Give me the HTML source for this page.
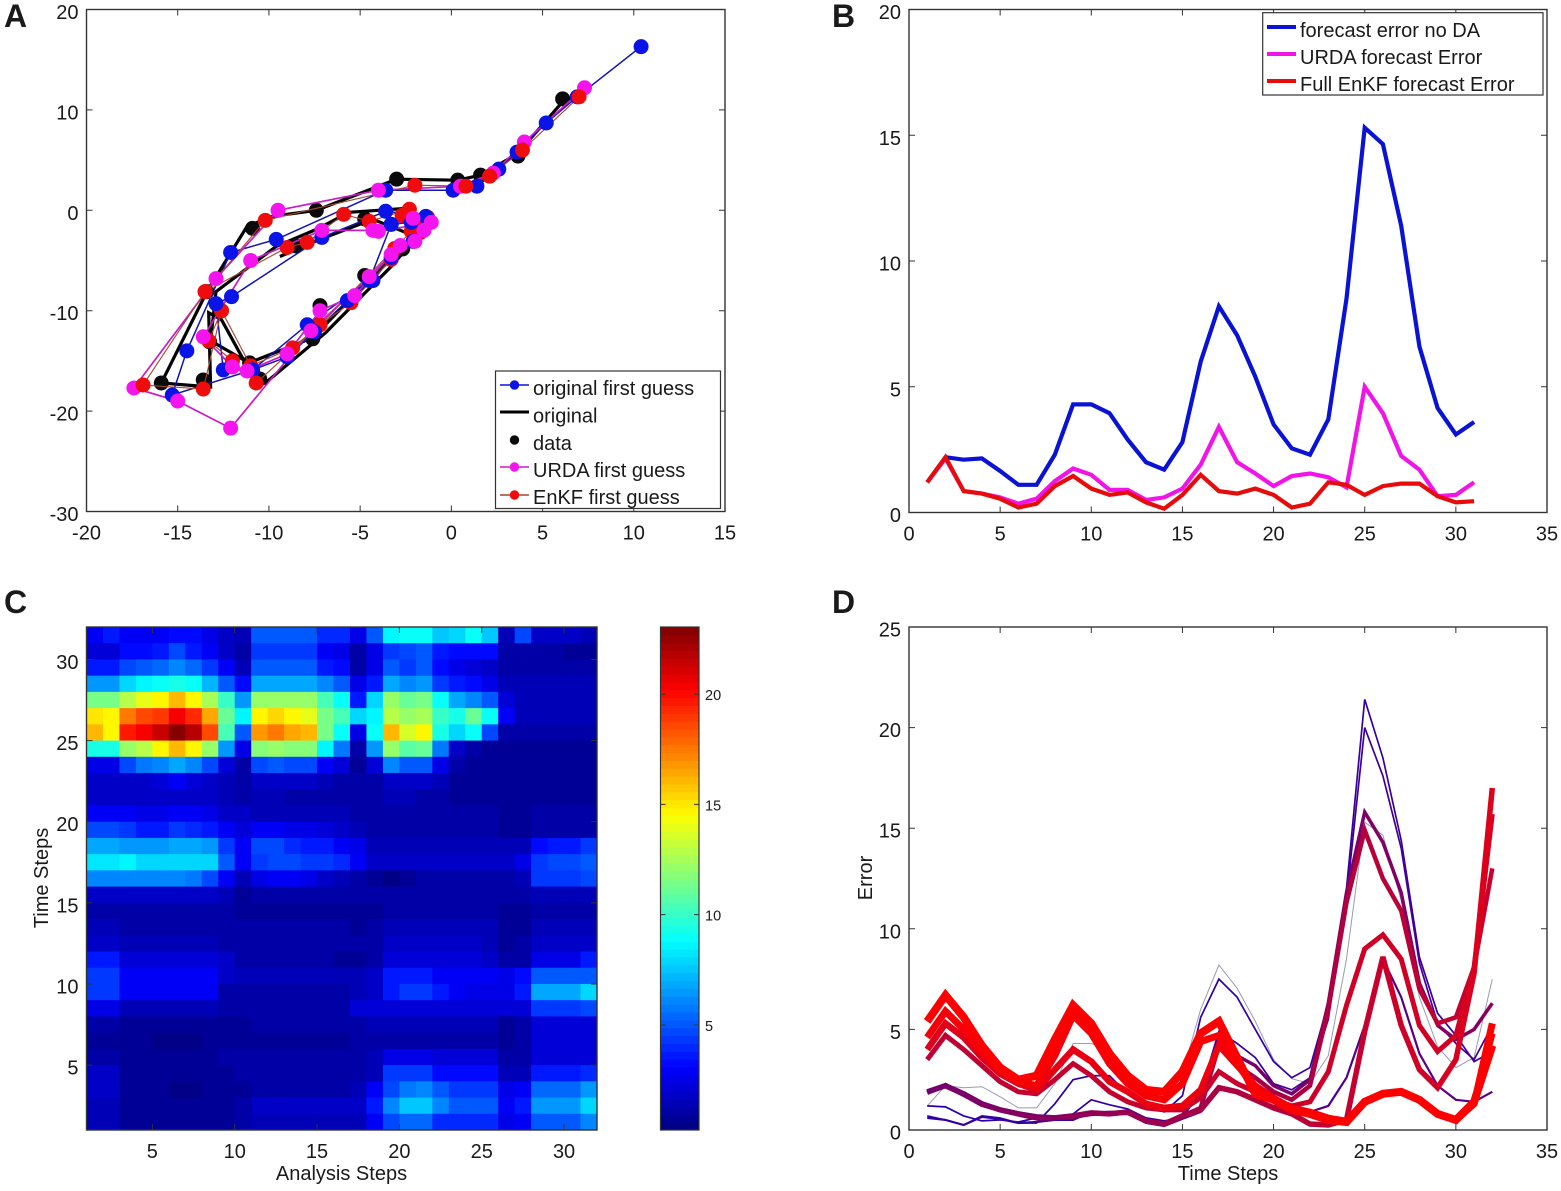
<!DOCTYPE html>
<html>
<head>
<meta charset="utf-8">
<title>Data assimilation figure</title>
<style>
html,body{margin:0;padding:0;background:#fff;}
svg{display:block;}
text{font-family:"Liberation Sans",sans-serif;fill:#1a1a1a;}
</style>
</head>
<body>
<svg id="fig" xmlns="http://www.w3.org/2000/svg" width="1561" height="1191" viewBox="0 0 1561 1191"></svg>
<script>
// ---------- Panel A data ----------
const guessX = [10.4,6.9,5.2,3.6,2.6,1.4,0.1,-3.6,-9.6,-12.1,-14.5,-15.3,-10.9,-9,-7.5,-5.7,-4.3,-3.3,-2.1,-1.4,-3.6,-7.1,-12.05,-12.9,-12.5,-10.9,-7.9,-4.5,-3.3,-2.2,-3.3];
const guessY = [16.3,11.3,8.7,5.8,4.1,2.4,2,2,-2.9,-4.2,-14,-18.4,-15.9,-14.6,-12.1,-9,-7,-4.7,-3.1,-0.6,-0.1,-2.7,-8.6,-9.3,-15.9,-15.9,-11.4,-7,-1.4,-1.2,-1.4];
const originalX = [6.9,6,3.6,1.6,0.35,-3,-7.4,-9.8,-11.2,-13.4,-15.9,-13.2,-13.3,-12.6,-11.3,-10.2,-6.9,-3.3,-1.4,-2.4,-5.6,-7.4,-9.6,-12.9,-13.2,-11.1,-7.6,-4.3,-2.8,-2.1,-4.3,-7.2,-9.4];
const originalY = [11.6,10.6,5.6,3.5,3,3.1,0,-0.6,-1.6,-8.1,-17.2,-17.6,-10.2,-10.9,-15.2,-17.2,-12.2,-5.6,-1.6,0.2,-0.2,-1.9,-3.6,-8.1,-13,-15.2,-12.7,-6.5,-4.1,-2.5,-0.9,-2.9,-4.6];
const dataX = [6.1,3.65,1.6,0.35,-3,-7.4,-10.9,-13.4,-13.25,-15.9,-13.6,-10.5,-11.06,-7.6,-7.2,-4.75,-2.67,-1.35,-4.75,-8.5];
const dataY = [11.1,5.4,3.5,3,3.1,0,-1.8,-8.1,-13.1,-17.2,-16.9,-16.8,-15.2,-12.8,-9.5,-6.5,-3.85,-1.36,-0.86,-3.55];
const urdaX = [7.3,4,2.3,0.5,-4,-9.5,-12.9,-17.4,-15,-12.1,-7.7,-4.5,-2.8,-1.5,-2.1,-4.3,-7.1,-11,-13.6,-12,-11.2,-9,-7.2,-5.3,-3.3,-2,-1.1,-4];
const urdaY = [12.2,6.8,3.7,2.4,2,0,-6.8,-17.7,-19,-21.7,-12,-6.6,-3.5,-2,-0.8,-2,-2,-5,-12.6,-15.6,-16,-14.3,-10,-8.5,-4.4,-3.1,-1.2,-2.1];
const enkfX = [7,3.9,2.1,0.8,-2,-10.2,-13.5,-16.9,-13.6,-12.6,-13.3,-12,-10.7,-7.2,-5.5,-3.3,-1.7,-1.3,-2.3,-4.5,-5.9,-7.9,-9,-13.5,-12.6,-11,-8.7,-7.2,-3.1,-2.2,-1.5,-2.7];
const enkfY = [11.3,6,3.4,2.4,2.5,-1,-8.1,-17.4,-17.8,-10,-13,-15,-17.2,-11.4,-9.2,-4.9,-2.2,-0.7,0.1,-1.1,-0.4,-3.2,-3.7,-8.1,-10,-15.5,-13.7,-11.4,-3.8,-2.1,-1.1,-0.5];
const panelAXTicks = [-20,-15,-10,-5,0,5,10,15];
const panelAYTicks = [-30,-20,-10,0,10,20];
const panelALegend = ["original first guess","original","data","URDA first guess","EnKF first guess"];

// ---------- Panel B data ----------
const errorNoDA = [1.2,2.2,2.1,2.15,1.65,1.1,1.1,2.3,4.3,4.3,3.95,2.9,2,1.7,2.8,6,8.2,7.05,5.4,3.5,2.55,2.3,3.7,8.5,15.3,14.65,11.4,6.6,4.15,3.1,3.6];
const errorURDA = [1.2,2.15,0.85,0.75,0.6,0.35,0.55,1.25,1.75,1.5,0.9,0.9,0.5,0.6,0.95,1.9,3.4,2,1.55,1.05,1.45,1.55,1.4,1,5,3.95,2.25,1.7,0.65,0.7,1.2];
const errorEnKF = [1.2,2.2,0.85,0.75,0.55,0.2,0.35,1.05,1.45,0.95,0.7,0.8,0.4,0.15,0.7,1.5,0.85,0.75,0.95,0.7,0.2,0.35,1.2,1.1,0.7,1.05,1.15,1.15,0.65,0.4,0.45];
const panelBXTicks = [0,5,10,15,20,25,30,35];
const panelBYTicks = [0,5,10,15,20];
const panelBLegend = ["forecast error no DA","URDA forecast Error","Full EnKF forecast Error"];

// ---------- Panel C data (top row = time step 31, bottom row = time step 1) ----------
const heatRow31 = [3,3.8,2.8,3,3,3.4,3.2,2.6,1.9,1.4,5,5,5,5,4,4,2.6,5.2,8.5,9,9,7.5,7.8,8.8,7.5,1.5,4.8,1.8,2,1.8,1.4];
const heatRow30 = [2.2,2.2,3.2,3.4,3.6,4.6,3.8,3,1.8,1.3,4.3,4.3,4.3,4.3,3,2.5,1.2,2.6,4.5,4.6,5,3.8,3.2,3.2,3.2,1,1.2,1,1,0.9,0.9];
const heatRow29 = [3.6,3.6,4.8,5.2,5.5,6,5.4,4.5,3,1.5,5,5,5,5,3.6,3.2,1.2,2.6,5,4.3,5,3.4,2.6,2.2,1.8,1,1,1,1,1,1];
const heatRow28 = [6.3,6.3,8,8.6,9,9.5,9,7.2,5,3.2,7,7,7,7,6,5,2.6,3.8,7,6,6.4,4.4,3.6,3.4,2.4,1.4,1.4,1.4,1.4,1.4,1.4];
const heatRow27 = [11.5,11.5,13,13.8,14.5,16,14.5,12.5,10,6.5,12.3,12.3,12.3,12.3,10.5,9,3.6,8,12,11,11.5,8.8,7,6.2,5,2.2,1.6,1.6,1.6,1.6,1.6];
const heatRow26 = [15,14.5,17.5,18.5,19,20.2,19.2,16.5,11,8.5,14.5,15.5,14.5,14,11.5,10.5,8,8.5,13,12,12.5,10.2,9.5,11,9,2.8,1.6,1.6,1.6,1.6,1.6];
const heatRow25 = [16,14.7,19.5,20.5,21.4,23,21.8,18.5,10.5,5,16.8,17.5,16.5,16,11.5,9,2.5,9,16,13.5,14.5,9.3,7.8,8.8,4.8,1.2,1.2,1.2,1.2,1.2,1.2];
const heatRow24 = [9.5,9.5,12,13,14.5,16,14.5,12,6.5,2.6,11.8,12,11.8,11.8,8.5,5.8,1,6.3,12,10.8,11,5.8,1.7,1,0.9,0.9,0.9,0.9,0.9,0.9,0.9];
const heatRow23 = [2.6,2.6,4.8,5.8,6,7,6.2,4.6,2.2,1.2,4.6,5,4.6,4.6,2.8,2.2,0.6,2.2,6,5,5,2.5,1.2,0.8,0.7,0.7,0.7,0.7,0.8,0.8,0.8];
const heatRow22 = [2,2,2,2,2.3,2.8,2.2,2,1.5,1,1.8,1.8,1.8,1.8,1.4,1.3,1,1.1,2,2,2,1.4,0.9,0.6,0.6,0.7,0.8,0.8,0.8,0.8,0.8];
const heatRow21 = [1.8,1.8,1.8,1.9,1.8,1.9,1.8,1.8,1.4,1.1,1.4,1.4,1.3,1.3,1.2,1.1,1,1.1,1.4,1.4,1.3,1.1,0.9,0.8,0.7,0.8,0.9,0.9,0.9,0.9,0.9];
const heatRow20 = [2.8,2.8,2.8,2.4,2.4,3,3,2.7,2,2,1.6,1.6,1.5,1.5,1.5,1.4,1.3,1.1,1.1,1.1,1.1,1,1,1,1,0.9,0.9,1,1,1,1];
const heatRow19 = [4.8,4.6,4.3,3.8,3.8,4.3,4,3.8,2.8,2.2,2.8,2.8,2.5,2.4,2.2,1.9,1.4,1.3,1.2,1.2,1.2,1.2,1.1,1.1,1,0.9,0.9,1,1,1,1];
const heatRow18 = [7,7,6.5,6.5,6.5,7,7,6.5,4.3,3,4.8,4.8,4,3.5,3.5,3,2.5,1.6,1.5,1.5,1.5,1.5,1.5,1.5,1.5,1.5,1.6,3.4,3.6,3.6,4.2];
const heatRow17 = [8.2,8.2,8.6,7.8,7.8,7.8,7.8,8,5,3,4.5,4.8,4.6,4.4,4.2,4,3,1.8,1.7,1.7,1.7,1.7,1.7,1.7,1.8,2,2.6,4.4,4.6,4.6,5.2];
const heatRow16 = [6.2,6.2,6.2,6,6,6,5.8,4.8,3,1.6,2.5,2.8,2.8,2.5,2,1.6,1,0.7,0.4,0.9,1,1,1,1,1.1,1.2,1.5,4.5,4.2,4.2,4.6];
const heatRow15 = [2,2,2,2,1.9,1.9,1.8,1.8,1.5,0.9,1.2,1.2,1.2,1.2,1.2,1.2,1.2,1.1,1.1,1.1,1.1,1.1,1.1,1.1,1.1,1.1,1.2,1.6,1.6,1.6,1.6];
const heatRow14 = [1.1,1.1,1,1,1,1,1,1,1,0.8,0.8,0.9,0.9,0.9,0.8,0.6,0.7,0.9,1,1,1,1,1,1,1,0.8,0.9,1.1,1.1,1.1,1.1];
const heatRow13 = [1.5,1.6,1.2,1.2,1.2,1.2,1.2,1.2,1.2,1,1,1,1,1,1,1,0.9,1,1.5,1.5,1.5,1.5,1.4,1.4,1.4,0.7,0.9,1.4,1.4,1.4,1.4];
const heatRow12 = [1.7,1.7,1.5,1.5,1.5,1.5,1.5,1.5,1.3,1.1,1.1,1.1,1.1,1.1,1.1,1,1,1.1,1.7,1.7,1.7,1.7,1.7,1.7,1.6,0.8,1,1.7,1.7,1.7,1.7];
const heatRow11 = [3.5,3.5,2.3,2.3,2.3,2.3,2.3,2.3,2,1.3,1.2,1.2,1.2,1.1,1,0.9,0.9,1.2,2.2,2.2,2.2,2.2,2.2,2.2,2,1.1,1.2,2.4,2.4,2.4,3.8];
const heatRow10 = [4.3,4.3,2.8,2.8,2.8,2.8,2.8,2.8,2,1.5,1.4,1.4,1.4,1.4,1.4,1.4,1.5,2,3.7,3.7,3.7,2.9,2.9,2.9,2.9,2.6,3.3,5,5,5,5.2];
const heatRow9 = [4.3,4.3,2.8,2.8,2.8,2.8,2.8,2.8,1.3,1.1,1.1,1.1,1.1,1.1,1.1,1.1,1.5,2,3.6,4.4,4.4,3.6,3,2.6,2.6,2.6,3.6,7,7,7,7.8];
const heatRow8 = [2.4,2.4,1.5,1.5,1.5,1.5,1.5,1.5,1,1,1,1,1,1,1,1,2.2,2.2,2.2,2.2,2.2,2.2,2.2,2.2,2.2,2.2,2.2,4.2,4.2,4.2,4.8];
const heatRow7 = [1,1,0.8,0.8,0.7,0.7,0.8,0.7,0.7,0.8,1,1,1,1,1,1,1.2,1.4,1.4,1.4,1.4,1.4,1.4,1.4,1.4,0.9,1,2.2,2.2,2.2,2.2];
const heatRow6 = [0.9,0.9,0.7,0.6,0.5,0.5,0.5,0.6,0.6,0.8,0.9,0.9,0.9,0.9,0.9,0.9,1,1.1,1.3,1.3,1.3,1.3,1.3,1.3,1.3,0.9,1,2.2,2.2,2.2,2.2];
const heatRow5 = [1.2,1.2,0.9,0.9,0.9,0.9,0.9,0.9,1,1,1,1,1,1,1,1,1,1.5,2.6,2.6,2.6,2.2,2.2,2.2,2.2,1.2,1.2,2.2,2.2,2.2,2.2];
const heatRow4 = [1.8,1.8,0.9,0.9,0.8,0.8,0.8,0.8,0.9,1,1.1,1.1,1.1,1.1,1.1,1.1,1.1,1.6,4.3,4.3,4.3,3.4,3.4,3.4,3.4,1.4,1.4,3.7,3.7,3.7,4];
const heatRow3 = [1.7,1.7,0.9,0.9,0.6,0.5,0.5,0.6,0.6,0.9,1.3,1.3,1.3,1.3,1.3,1.3,1.5,3,4.7,5.7,6.2,5,4.5,4.5,4.5,2.5,3,5.5,5.5,5.5,6.5];
const heatRow2 = [1.5,1.5,0.9,0.9,0.9,0.9,0.9,0.9,0.9,1,1.7,1.7,1.7,1.7,1.7,1.7,1.7,3.7,6,7.5,7.5,6,5,5,5,3,3.5,6.5,6.5,6.5,8];
const heatRow1 = [1.4,1.4,0.8,0.8,0.8,0.8,0.8,0.8,0.8,1,1.6,1.6,1.6,1.6,1.6,1.6,1.6,3,4.7,5.4,5.4,4,4,4,4,2.4,3,5,5,5,6];
const heatRows = [heatRow31,heatRow30,heatRow29,heatRow28,heatRow27,heatRow26,heatRow25,heatRow24,heatRow23,heatRow22,heatRow21,heatRow20,heatRow19,heatRow18,heatRow17,heatRow16,heatRow15,heatRow14,heatRow13,heatRow12,heatRow11,heatRow10,heatRow9,heatRow8,heatRow7,heatRow6,heatRow5,heatRow4,heatRow3,heatRow2,heatRow1];
const panelCXTicks = [5,10,15,20,25,30];
const panelCYTicks = [5,10,15,20,25,30];
const colorbarTicks = [5,10,15,20];

// ---------- Panel D data ----------
const lineGray = [1.2,2.2,2.1,2.15,1.65,1.1,1.1,2.3,4.3,4.3,3.95,2.9,2,1.7,2.8,6,8.2,7.05,5.4,3.5,2.55,2.3,3.7,8.5,15.3,14.65,11.4,6.6,4.15,3.1,3.6,7.5];
const linePeak21 = [0.7,0.5,0.25,0.7,0.6,0.35,0.35,1.3,2.5,2.7,2.7,1.8,1.2,0.9,1.7,5.6,7.5,6.6,5,3.4,2.6,3.1,6.3,12,21.4,18.5,14.4,8.6,5.8,4.7,3.4,3.9];
const linePeak20 = [1.2,1.15,0.7,0.45,0.5,0.4,0.6,0.6,0.8,1.5,1.25,1.05,0.6,0.45,0.6,1.9,4.9,4.3,3.6,2.3,2,2.6,5.5,11.5,20,17.6,14,8.3,5.3,4.3,3.5,5.2];
const linePeak8 = [0.6,0.5,0.25,0.65,0.55,0.35,0.4,0.5,0.5,0.9,0.75,0.8,0.35,0.2,0.55,0.9,2,1.9,1.5,1.2,1.1,0.9,1.2,2.6,5.2,8.5,6.6,3.8,2.2,1.5,1.4,1.9];
const linePeak16 = [1.9,2.25,1.8,1.3,1.05,0.85,0.7,0.65,0.7,0.8,0.85,0.9,0.5,0.35,0.75,1.9,4.5,3.7,3.2,2.2,1.8,2.5,6.3,11.8,15.8,14.3,11.8,7.3,5.2,4.5,5,6.3];
const linePeak15 = [1.85,2.2,1.75,1.25,1,0.8,0.65,0.6,0.65,0.8,0.85,0.85,0.45,0.3,0.7,1.1,4.2,3.2,2.6,1.9,1.5,2.2,6,11.3,14.9,12.5,10.9,7,5.3,5.6,8.1,13];
const linePeak10 = [3.5,4.7,4,3.2,2.4,1.9,1.8,2.5,3.3,2.7,1.9,1.4,1.1,1,1,1.6,2.9,2.3,1.9,1.5,1.2,1.4,2.9,6.2,9,9.7,8.5,5.2,3.9,4.7,8.1,15.7];
const linePeak9 = [1.9,2.2,1.8,1.3,1,0.8,0.6,0.6,0.7,0.85,0.8,0.9,0.45,0.3,0.7,1,2.1,1.9,1.5,1.1,0.8,0.3,0.25,0.5,4.9,8.6,5.2,3,2.1,3.5,7.8,17];
const lineLowC = [4,5.3,4.6,3.6,2.8,2.3,2,3,4,3.4,2.4,1.9,1.3,1.1,1.2,2,4.2,3.2,2.2,1.6,1.1,0.9,0.6,0.45,1.4,1.8,1.9,1.5,0.8,0.5,1.3,4.8];
const lineLowA = [4.6,5.9,5,3.9,3,2.4,2.2,3.7,5.7,4.8,3.3,2.3,1.7,1.5,2.3,4.4,4.7,3.3,2,1.5,1,0.8,0.5,0.4,1.4,1.8,1.9,1.5,0.8,0.5,1.3,5.3];
const lineLowB = [5.4,6.7,5.6,4.2,3.1,2.5,2.7,4.5,6.2,5.3,3.8,2.7,2,1.9,2.9,4.8,5.4,3.6,1.8,1.5,1,0.8,0.5,0.4,1.4,1.8,1.9,1.5,0.8,0.5,1.4,4.2];
const panelDXTicks = [0,5,10,15,20,25,30,35];
const panelDYTicks = [0,5,10,15,20,25];

// ---------- helpers ----------
const NS = "http://www.w3.org/2000/svg";
const svg = document.getElementById("fig");
function mk(tag, attrs, parent, txt){
  const e = document.createElementNS(NS, tag);
  for (const k in attrs) e.setAttribute(k, attrs[k]);
  if (txt !== undefined) e.textContent = txt;
  (parent || svg).appendChild(e);
  return e;
}
function linear(d0, d1, r0, r1){ return v => r0 + (v - d0) * (r1 - r0) / (d1 - d0); }
function pts(xs, ys, sx, sy){ return xs.map((v, i) => sx(v).toFixed(1) + "," + sy(ys[i]).toFixed(1)).join(" "); }
function jet(v, lo, hi){
  let t = (v - lo) / (hi - lo);
  t = Math.max(0, Math.min(0.9999, t));
  t = (Math.floor(t * 64) + 0.5) / 64;
  const f = c => Math.round(255 * Math.max(0, Math.min(1, 1.5 - Math.abs(4 * t - c))));
  return "rgb(" + f(3) + "," + f(2) + "," + f(1) + ")";
}
const AX = "#333";
function drawAxes(g, left, right, top, bottom, sx, sy, xt, yt){
  const frame = mk("rect", {x:left, y:top, width:right-left, height:bottom-top, fill:"none", stroke:AX, "stroke-width":1.4}, g);
  
  
  xt.forEach(v => {
    const x = sx(v);
    const tick = mk("path", {d:`M${x} ${bottom}v-6M${x} ${top}v6`, stroke:AX, "stroke-width":1, fill:"none"}, g);
    
    
    const lab = mk("text", {x:x, y:bottom+28, "text-anchor":"middle", "font-size":20}, g, String(v));
    
    
  });
  yt.forEach(v => {
    const y = sy(v);
    const tick = mk("path", {d:`M${left} ${y}h6M${right} ${y}h-6`, stroke:AX, "stroke-width":1, fill:"none"}, g);
    
    
    const lab = mk("text", {x:left-8, y:y+9.5, "text-anchor":"end", "font-size":20}, g, String(v));
    
    
  });
}
function panelLetter(t, x, y){
  const e = mk("text", {x:x, y:y, "font-size":32, "font-weight":"bold", fill:"#000"}, svg, t);
  
  
}
panelLetter("A", 4, 27);
panelLetter("B", 832, 27);
panelLetter("C", 4, 613);
panelLetter("D", 832, 613);

// ---------- Panel A ----------
(function(){
  const g = mk("g", {}, svg);
  
  
  const L = 86.5, R = 725, T = 9.5, B = 511.5;
  const sx = linear(-20, 15, L, R), sy = linear(20, -30, T, B);
  const dotLayer = (xs, ys, color, name, keep) => {
    const lay = mk("g", {}, g);
    
    
    xs.forEach((v, i) => {
      if (keep && !keep(v, ys[i])) return;
      const c = mk("circle", {cx:sx(v), cy:sy(ys[i]), r:7.5, fill:color}, lay);
      
      
    });
  };
  const line = (xs, ys, color, w, name) => {
    const p = mk("polyline", {points:pts(xs, ys, sx, sy), fill:"none", stroke:color, "stroke-width":w, "stroke-linejoin":"miter"}, g);
    
    
  };
  // stacking: red sits under the blue/magenta markers inside the dense ring, above them elsewhere
  const outsideRing = (x, y) => y > 1 || x > 0 || (x < -9.9 && y > -9) || y < -16;
  const insideRing = (x, y) => !outsideRing(x, y);
  line(originalX, originalY, "#000", 3.2, "original-line");
  dotLayer(dataX, dataY, "#0a0a0a", "data-points");
  line(guessX, guessY, "#1212b4", 1.5, "original-first-guess-line");
  line(urdaX, urdaY, "#c81cc8", 1.7, "urda-first-guess-line");
  line(enkfX, enkfY, "#a8452f", 1.1, "enkf-first-guess-line");
  dotLayer(enkfX, enkfY, "#ee0c0c", "enkf-first-guess-points-ring", insideRing);
  dotLayer(guessX, guessY, "#0a14e6", "original-first-guess-points");
  dotLayer(urdaX, urdaY, "#f414ee", "urda-first-guess-points");
  dotLayer(enkfX, enkfY, "#ee0c0c", "enkf-first-guess-points-outer", outsideRing);
  drawAxes(g, L, R, T, B, sx, sy, panelAXTicks, panelAYTicks);

  const lg = mk("g", {}, g);
  
  
  mk("rect", {x:495.5, y:371, width:225, height:137.5, fill:"#fff", stroke:"#333", "stroke-width":1.2}, lg);
  const rowY = [385, 412, 440, 467, 495];
  const base = [395, 422.5, 450, 477, 504];
  const lineColor = ["#1010d0", "#000", null, "#c81cc8", "#a8452f"];
  const dotColor = ["#0a14e6", null, "#0a0a0a", "#f414ee", "#ee0c0c"];
  panelALegend.forEach((t, i) => {
    if (lineColor[i]) mk("line", {x1:500, x2:529, y1:rowY[i], y2:rowY[i], stroke:lineColor[i], "stroke-width":i === 1 ? 3 : 1.5}, lg);
    if (dotColor[i]) mk("circle", {cx:514.5, cy:rowY[i], r:4.7, fill:dotColor[i]}, lg);
    const e = mk("text", {x:533, y:base[i], "font-size":20}, lg, t);
    
    
  });
})();

// ---------- Panel B ----------
(function(){
  const g = mk("g", {}, svg);
  
  
  const L = 909, R = 1547, T = 9.5, B = 512.5;
  const sx = linear(0, 35, L, R), sy = linear(0, 20, B, T);
  const steps = errorNoDA.map((_, i) => i + 1);
  const draw = (vals, color, name) => {
    const p = mk("polyline", {points:pts(steps, vals, sx, sy), fill:"none", stroke:color, "stroke-width":4.2, "stroke-linejoin":"miter"}, g);
    
    
  };
  draw(errorNoDA, "#0a12d4", "forecast-error-no-da-line");
  draw(errorURDA, "#f014e8", "urda-forecast-error-line");
  draw(errorEnKF, "#e60c0c", "enkf-forecast-error-line");
  drawAxes(g, L, R, T, B, sx, sy, panelBXTicks, panelBYTicks);

  const lg = mk("g", {}, g);
  
  
  mk("rect", {x:1262.7, y:12.7, width:280.3, height:82.3, fill:"#fff", stroke:"#333", "stroke-width":1.2}, lg);
  const rowY = [27, 54, 81];
  const base = [37, 64, 91];
  const colors = ["#0a12d4", "#f014e8", "#e60c0c"];
  panelBLegend.forEach((t, i) => {
    mk("line", {x1:1267, x2:1296, y1:rowY[i], y2:rowY[i], stroke:colors[i], "stroke-width":4}, lg);
    const e = mk("text", {x:1300, y:base[i], "font-size":20}, lg, t);
    
    
  });
})();

// ---------- Panel C ----------
(function(){
  const g = mk("g", {}, svg);
  
  
  const L = 86.5, R = 597, T = 627, B = 1130;
  const sx = linear(1, 32, L, R), sy = linear(1, 32, B, T);
  const lo = 0.24, hi = 23.04;
  const nRows = heatRows.length;
  heatRows.forEach((row, r) => {
    const step = nRows - r;
    row.forEach((v, c) => {
      const x0 = sx(c + 1), x1 = sx(c + 2), y1 = sy(step), y0 = sy(step + 1);
      const cell = mk("rect", {x:x0, y:y0, width:x1 - x0 + 0.4, height:y1 - y0 + 0.4, fill:jet(v, lo, hi)}, g);
      
      
    });
  });
  drawAxes(g, L, R, T, B, sx, sy, panelCXTicks, panelCYTicks);
  const xt = mk("text", {x:341.5, y:1180, "text-anchor":"middle", "font-size":20}, g, "Analysis Steps");
  
  
  const yt = mk("text", {transform:"translate(48,878) rotate(-90)", "text-anchor":"middle", "font-size":20}, g, "Time Steps");
  
  

  // colorbar
  const cb = mk("g", {}, svg);
  
  
  const cL = 660.5, cR = 699, cs = linear(lo, hi, B, T);
  for (let i = 0; i < 64; i++) {
    const v0 = lo + (hi - lo) * i / 64, v1 = lo + (hi - lo) * (i + 1) / 64;
    const s = mk("rect", {x:cL, y:cs(v1), width:cR - cL, height:cs(v0) - cs(v1) + 0.4, fill:jet((v0 + v1) / 2, lo, hi)}, cb);
    
    
  }
  mk("rect", {x:cL, y:T, width:cR - cL, height:B - T, fill:"none", stroke:"#333", "stroke-width":1.2}, cb);
  colorbarTicks.forEach(v => {
    mk("path", {d:`M${cL} ${cs(v)}h5M${cR} ${cs(v)}h-5`, stroke:"#333", "stroke-width":1, fill:"none"}, cb);
    const e = mk("text", {x:705, y:cs(v) + 6, "font-size":14.5}, cb, String(v));
    
    
  });
})();

// ---------- Panel D ----------
(function(){
  const g = mk("g", {}, svg);
  
  
  const L = 909, R = 1547, T = 627, B = 1130;
  const sx = linear(0, 35, L, R), sy = linear(0, 25, B, T);
  const defs = mk("defs", {}, g);
  const mix = m => `rgb(${Math.round(40 + 215 * m)},0,${Math.round(170 * (1 - m))})`;
  const curves = [lineGray, linePeak21, linePeak20, linePeak8, linePeak16, linePeak15, linePeak10, linePeak9, lineLowC, lineLowA, lineLowB];
  const curveStart = [null, 0, 0, 0.05, 0.25, 0.35, 0.7, 0.35, 0.85, 0.95, 1];
  const curveEnd = [null, 0.1, 0.15, 0.25, 0.45, 0.75, 0.8, 0.85, 1, 1, 1];
  const curveWidth = [1, 1.7, 1.7, 2.2, 3.5, 4.5, 5, 5.5, 6.5, 7, 8];
  curves.forEach((vals, k) => {
    const steps = vals.map((_, i) => i + 1);
    let stroke = "#9a9ab2";
    if (curveStart[k] !== null) {
      const id = "grad" + k;
      const lg = mk("linearGradient", {id:id, gradientUnits:"userSpaceOnUse", x1:sx(1), x2:sx(32), y1:0, y2:0}, defs);
      mk("stop", {offset:"0", "stop-color":mix(curveStart[k])}, lg);
      mk("stop", {offset:"1", "stop-color":mix(curveEnd[k])}, lg);
      stroke = "url(#" + id + ")";
    }
    const p = mk("polyline", {points:pts(steps, vals, sx, sy), fill:"none", stroke:stroke, "stroke-width":curveWidth[k], "stroke-linejoin":"miter"}, g);
    
    
  });
  drawAxes(g, L, R, T, B, sx, sy, panelDXTicks, panelDYTicks);
  const xt = mk("text", {x:1228, y:1180, "text-anchor":"middle", "font-size":20}, g, "Time Steps");
  
  
  const yt = mk("text", {transform:"translate(872,878) rotate(-90)", "text-anchor":"middle", "font-size":20}, g, "Error");
  
  
})();
</script>
</body>
</html>
